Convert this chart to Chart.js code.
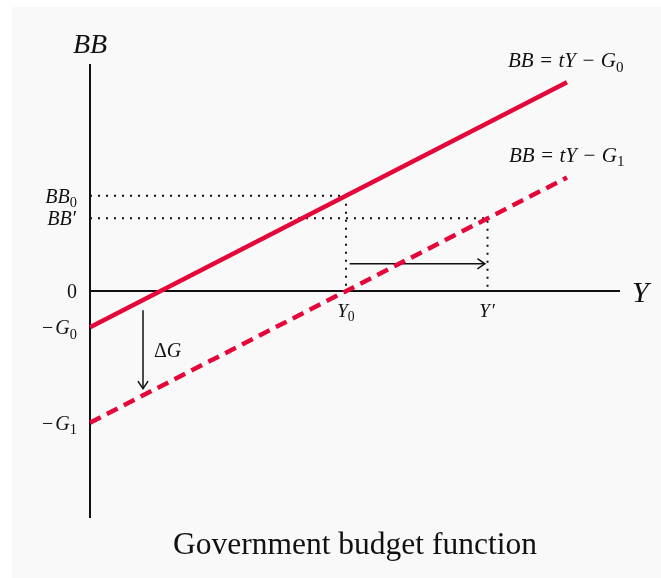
<!DOCTYPE html>
<html>
<head>
<meta charset="utf-8">
<script src="https://cdn.jsdelivr.net/npm/chart.js@4.4.1/dist/chart.umd.min.js"></script>
<style>
  body { margin: 0; background: #fff; }
  #wrap { position: absolute; left: 12px; top: 7px; width: 649px; height: 571px; background: #f9f9f9; }
</style>
</head>
<body>
<div id="wrap"><canvas id="budget"></canvas></div>
<script>
// axis ranges (model units)
var xRange = [0, 10];
var yRange = [-10, 10];

// the two budget lines, drawn between lineX[0] and lineX[1]
var lineX = [0, 9];
var bbG0 = [-1.6, 9.2];   // BB = tY - G0
var bbG1 = [-5.8, 5.0];   // BB = tY - G1

// marked points
var Y0 = 4.83, BB0 = 4.2;
var Yp = 7.5, BBp = 3.2;

// tick labels on the BB axis
var yTickValues = [BB0, BBp, 0, -1.6, -5.8];
var yTickLabels = [
  [['BB', 'i'], ['0', 's']],
  [['BB', 'i'], [1, 'g'], ['\u2032', 'r']],
  [['0', 'r']],
  [['\u2212', 'r'], [2, 'g'], ['G', 'i'], ['0', 's']],
  [['\u2212', 'r'], [2, 'g'], ['G', 'i'], ['1', 's']]
];
var xTickValues = [Y0, Yp];
var xTickLabels = [
  [['Y', 'i'], ['0', 's']],
  [['Y', 'i'], [2, 'g'], ['\u2032', 'r']]
];

// shift arrows
var shiftArrow = [[4.9, 1.2], [7.45, 1.2]];
var dropArrow = [[1, -0.85], [1, -4.3]];

var red = '#e4083a';
var ink = '#111';
var serif = '"Liberation Serif", "Times New Roman", serif';

function pts(xs, ys) {
  var out = [];
  for (var i = 0; i < xs.length; i++) out.push({x: xs[i], y: ys[i]});
  return out;
}

// parts: [text, kind] with kind i = italic, r = roman, s = subscript, g = gap in px
function drawMath(ctx, parts, x, y, size, align) {
  var items = parts.map(function (p) {
    if (p[1] === 'g') return {t: '', f: null, w: p[0], dy: 0};
    var s = p[1] === 's' ? size * 0.72 : size;
    var f = (p[1] === 'i' ? 'italic ' : '') + s + 'px ' + serif;
    ctx.font = f;
    return {t: p[0], f: f, w: ctx.measureText(p[0]).width, dy: p[1] === 's' ? size * 0.22 : 0};
  });
  var total = items.reduce(function (a, b) { return a + b.w; }, 0);
  var cx = align === 'right' ? x - total : align === 'center' ? x - total / 2 : x;
  ctx.textAlign = 'left';
  ctx.textBaseline = 'alphabetic';
  items.forEach(function (it) {
    if (it.f) {
      ctx.font = it.f;
      ctx.fillText(it.t, cx, y + it.dy);
    }
    cx += it.w;
  });
}

function arrowHead(ctx, x, y, ang) {
  var L = 9, a = 0.6;
  ctx.beginPath();
  ctx.moveTo(x - L * Math.cos(ang - a), y - L * Math.sin(ang - a));
  ctx.lineTo(x, y);
  ctx.lineTo(x - L * Math.cos(ang + a), y - L * Math.sin(ang + a));
  ctx.stroke();
}

function equation(sub) {
  return [['BB', 'i'], [6.5, 'g'], ['=', 'r'], [6.5, 'g'], ['tY', 'i'], [6.5, 'g'], ['\u2212', 'r'], [6.5, 'g'], ['G', 'i'], ['' + sub, 's']];
}

var labels = {
  id: 'labels',
  afterDatasetsDraw: function (chart) {
    var ctx = chart.ctx, xs = chart.scales.x, ys = chart.scales.y, area = chart.chartArea;
    ctx.save();
    ctx.fillStyle = ink;
    ctx.strokeStyle = ink;
    ctx.lineWidth = 1.5;

    // arrow heads
    var h1 = shiftArrow[1], h0 = shiftArrow[0];
    var hx1 = xs.getPixelForValue(h1[0]), hy1 = ys.getPixelForValue(h1[1]);
    var hx0 = xs.getPixelForValue(h0[0]), hy0 = ys.getPixelForValue(h0[1]);
    arrowHead(ctx, hx1, hy1, Math.atan2(hy1 - hy0, hx1 - hx0));
    var v0 = dropArrow[0], v1 = dropArrow[1];
    var vx0 = xs.getPixelForValue(v0[0]), vy0 = ys.getPixelForValue(v0[1]);
    var vx1 = xs.getPixelForValue(v1[0]), vy1 = ys.getPixelForValue(v1[1]);
    arrowHead(ctx, vx1, vy1, Math.atan2(vy1 - vy0, vx1 - vx0));
    drawMath(ctx, [['\u0394', 'r'], ['G', 'i']], vx0 + 11, (vy0 + vy1) / 2 + 8, 20, 'left');

    // BB axis ticks
    var axX = xs.getPixelForValue(0);
    yTickValues.forEach(function (v, i) {
      drawMath(ctx, yTickLabels[i], axX - 13, ys.getPixelForValue(v) + 7, 20, 'right');
    });
    // Y axis ticks
    var axY = ys.getPixelForValue(0);
    xTickValues.forEach(function (v, i) {
      drawMath(ctx, xTickLabels[i], xs.getPixelForValue(v), axY + 26, 19, 'center');
    });

    // axis names
    drawMath(ctx, [['BB', 'i']], axX, area.top - 11, 28, 'center');
    drawMath(ctx, [['Y', 'i']], area.right + 12, axY + 11, 30, 'left');

    // line equations
    var e0x = xs.getPixelForValue(lineX[1]), e0y = ys.getPixelForValue(bbG0[1]);
    drawMath(ctx, equation(0), e0x - 59, e0y - 15, 21, 'left');
    var e1x = xs.getPixelForValue(lineX[1]), e1y = ys.getPixelForValue(bbG1[1]);
    drawMath(ctx, equation(1), e1x - 58, e1y - 16, 21, 'left');

    // caption
    ctx.font = '31.5px ' + serif;
    ctx.textAlign = 'center';
    ctx.fillText('Government budget function', (area.left + area.right) / 2, area.bottom + 36);
    ctx.restore();
  }
};

var budget = document.getElementById('budget').getContext('2d');
new Chart(budget, {
  type: 'scatter',
  data: {
    datasets: [
      { data: pts(lineX, bbG0), borderColor: red, borderWidth: 4.5, order: 1 },
      { data: pts(lineX, bbG1), borderColor: red, borderWidth: 4.5, borderDash: [12, 7], order: 2 },
      { data: [{x: 0, y: yRange[0]}, {x: 0, y: yRange[1]}], borderColor: ink, borderWidth: 2, order: 3 },
      { data: [{x: xRange[0], y: 0}, {x: xRange[1], y: 0}], borderColor: ink, borderWidth: 2, order: 4 },
      { data: [{x: 0, y: BB0}, {x: Y0, y: BB0}, {x: Y0, y: 0}], borderColor: ink, borderWidth: 2, borderDash: [2, 6], order: 5 },
      { data: [{x: 0, y: BBp}, {x: Yp, y: BBp}, {x: Yp, y: 0}], borderColor: ink, borderWidth: 2, borderDash: [2, 6], order: 6 },
      { data: pts([shiftArrow[0][0], shiftArrow[1][0]], [shiftArrow[0][1], shiftArrow[1][1]]), borderColor: ink, borderWidth: 1.5, order: 7 },
      { data: pts([dropArrow[0][0], dropArrow[1][0]], [dropArrow[0][1], dropArrow[1][1]]), borderColor: ink, borderWidth: 1.5, order: 8 }
    ].map(function (d) {
      d.showLine = true;
      d.pointRadius = 0;
      d.pointHoverRadius = 0;
      d.fill = false;
      d.clip = false;
      d.borderCapStyle = 'butt';
      return d;
    })
  },
  options: {
    responsive: true,
    maintainAspectRatio: false,
    animation: false,
    events: [],
    layout: { padding: { left: 78, top: 57, right: 41, bottom: 60 } },
    plugins: { legend: { display: false }, tooltip: { enabled: false } },
    scales: {
      x: { type: 'linear', min: xRange[0], max: xRange[1], display: false },
      y: { type: 'linear', min: yRange[0], max: yRange[1], display: false }
    }
  },
  plugins: [labels]
});
</script>
</body>
</html>
